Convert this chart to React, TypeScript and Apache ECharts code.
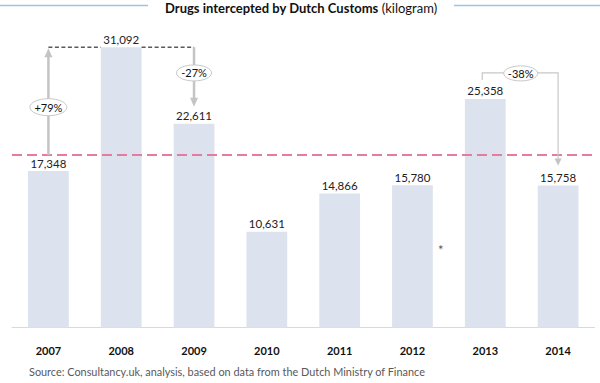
import React, { useEffect, useRef } from "react";
import * as echarts from "echarts";

const years = ["2007", "2008", "2009", "2010", "2011", "2012", "2013", "2014"];
const values = [17348, 31092, 22611, 10631, 14866, 15780, 25358, 15758];
const changes = [
  { from: 0, to: 1, label: "+79%" },
  { from: 1, to: 2, label: "-27%" },
  { from: 6, to: 7, label: "-38%" },
];
const titleBold = "Drugs intercepted by Dutch Customs";
const titleUnit = "(kilogram)";
const sourceText = "Source: Consultancy.uk, analysis, based on data from the Dutch Ministry of Finance";
const FONT = "Lato";

export default function App() {
  const ref = useRef<HTMLDivElement>(null);
  useEffect(() => {
    document.body.style.margin = "0";
    const chart = echarts.init(ref.current!, null, { renderer: "svg" });
    const option: any = {
      animation: false,
      grid: { left: 12, right: 5.5, top: 12, bottom: 55.5 },
      xAxis: {
        type: "category",
        data: years,
        axisLine: { lineStyle: { color: "#d9d9d9", width: 1 } },
        axisTick: { show: false },
        axisLabel: { fontWeight: "bold", fontSize: 11, color: "#111", margin: 17, fontFamily: FONT },
      },
      yAxis: { type: "value", min: 0, max: 35000, show: false, splitLine: { show: false } },
      series: [
        {
          type: "bar",
          data: values,
          barWidth: "56%",
          itemStyle: { color: "#dde3ee" },
          label: {
            show: true,
            position: "top",
            distance: 2,
            fontSize: 11.5,
            color: "#222",
            fontFamily: FONT,
            formatter: (p: any) => Number(p.value).toLocaleString("en-US"),
          },
          markLine: {
            silent: true,
            symbol: "none",
            label: { show: false },
            lineStyle: { color: "#e57c9d", type: [10, 5], width: 2 },
            data: [{ type: "average" }],
          },
        },
      ],
    };
    chart.setOption(option);

    const px = (i: number, v: number) => chart.convertToPixel({ gridIndex: 0 }, [i, v]) as number[];
    const gray = "#c4c4c4";
    const els: any[] = [];
    const band = px(1, 0)[0] - px(0, 0)[0];
    const halfBar = (band * 0.56) / 2;
    const ellipse = (cx: number, cy: number, rx: number, ry: number, text: string) => {
      els.push({
        type: "ellipse",
        shape: { cx, cy, rx, ry },
        style: { fill: "#fff", stroke: "#c8c8c8", lineWidth: 1 },
        z: 10,
      });
      els.push({
        type: "text",
        x: cx,
        y: cy,
        style: { text, fontSize: 11, fill: "#111", fontFamily: FONT, align: "center", verticalAlign: "middle" },
        z: 11,
      });
    };
    const arrowHead = (x: number, tipY: number, dir: number, w: number, h: number) => {
      els.push({
        type: "polygon",
        shape: { points: [[x - w / 2, tipY + dir * h], [x + w / 2, tipY + dir * h], [x, tipY]] },
        style: { fill: gray },
        z: 9,
      });
    };

    // 2007 -> 2008 up arrow
    {
      const c = changes[0];
      const [x0, y0] = px(c.from, values[c.from]);
      const [, y1] = px(c.to, values[c.to]);
      const start = y0 - 16;
      els.push({ type: "line", shape: { x1: x0, y1: start, x2: x0, y2: y1 + 8 }, style: { stroke: gray, lineWidth: 2.5 }, z: 9 });
      arrowHead(x0, y1 + 1, 1, 8, 9);
      ellipse(x0, (start + y1) / 2 + 6, 18.5, 8.5, c.label);
    }
    // dashed connector + 2009 down arrow
    {
      const c = changes[1];
      const [x1, y1] = px(c.from, values[c.from]);
      const x0 = px(changes[0].from, 0)[0];
      const [x2, y2] = px(c.to, values[c.to]);
      const dash = { stroke: "#595959", lineWidth: 1.5, lineDash: [4, 2.5] };
      els.push({ type: "line", shape: { x1: x0, y1: y1, x2: x1 - halfBar, y2: y1 }, style: dash, z: 9 });
      els.push({ type: "line", shape: { x1: x1 + halfBar, y1: y1, x2: x2, y2: y1 }, style: dash, z: 9 });
      const tip = y2 - 17;
      els.push({ type: "line", shape: { x1: x2, y1: y1, x2: x2, y2: tip - 8 }, style: { stroke: gray, lineWidth: 2.5 }, z: 9 });
      arrowHead(x2, tip, -1, 8, 9);
      ellipse(x2, (y1 + tip) / 2 - 4, 17.5, 8, c.label);
    }
    // 2013 -> 2014 bracket
    {
      const c = changes[2];
      const [x6, y6] = px(c.from, values[c.from]);
      const [x7, y7] = px(c.to, values[c.to]);
      const yTop = y6 - 26;
      const tip = y7 - 20;
      els.push({
        type: "polyline",
        shape: { points: [[x6 - 3, y6 - 19], [x6 - 3, yTop], [x7, yTop], [x7, tip - 6]] },
        style: { stroke: "#c8c8c8", lineWidth: 1.2, fill: null },
        z: 9,
      });
      arrowHead(x7, tip, -1, 7, 7);
      ellipse((x6 + x7) / 2 - 1, yTop + 0.5, 17, 7.5, c.label);
    }
    // asterisk
    {
      const [x5, ya] = px(5, 8800);
      const x6 = px(6, 0)[0];
      els.push({
        type: "text",
        x: (x5 + x6) / 2 - 8,
        y: ya + 2,
        style: { text: "*", fontSize: 13, fill: "#555", fontFamily: FONT, align: "center", verticalAlign: "middle" },
      });
    }
    // title
    els.push({ type: "line", shape: { x1: 0, y1: 5.5, x2: 148, y2: 5.5 }, style: { stroke: "#9dc3e6", lineWidth: 1.5 } });
    els.push({ type: "line", shape: { x1: 454, y1: 5.5, x2: 600, y2: 5.5 }, style: { stroke: "#9dc3e6", lineWidth: 1.5 } });
    els.push({
      type: "text",
      x: 301,
      y: 8,
      style: {
        text: `{b|${titleBold}} {n|${titleUnit}}`,
        align: "center",
        verticalAlign: "middle",
        rich: {
          b: { fontSize: 13, fontWeight: "bold", fill: "#111", fontFamily: FONT },
          n: { fontSize: 13, fill: "#111", fontFamily: FONT },
        },
      },
    });
    els.push({
      type: "text",
      x: 29,
      y: 371,
      style: { text: sourceText, fontSize: 10.9, fill: "#595959", fontFamily: FONT, verticalAlign: "middle" },
    });

    chart.setOption({ graphic: { elements: els } });
    return () => chart.dispose();
  }, []);
  return <div ref={ref} style={{ width: 600, height: 383 }} />;
}
